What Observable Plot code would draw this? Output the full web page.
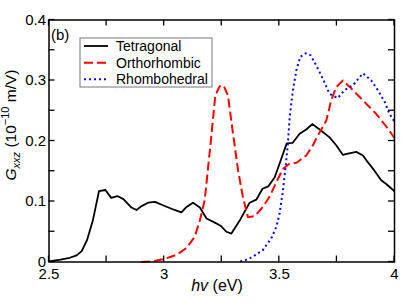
<!DOCTYPE html>
<html>
<head>
<meta charset="utf-8">
<script src="https://cdn.jsdelivr.net/npm/d3@7"></script>
<script src="https://cdn.jsdelivr.net/npm/@observablehq/plot@0.6"></script>
<style>
  html, body { margin: 0; padding: 0; background: #fff; }
  #chart { width: 407px; height: 305px; }
</style>
</head>
<body>
<div id="chart"></div>
<script>
// Data
const tetraX = [2.5, 2.55, 2.59, 2.62, 2.642, 2.665, 2.69, 2.717, 2.745, 2.77, 2.797, 2.823, 2.858, 2.88, 2.9, 2.93, 2.96, 3.0, 3.045, 3.075, 3.097, 3.125, 3.155, 3.184, 3.22, 3.245, 3.27, 3.292, 3.33, 3.371, 3.4, 3.427, 3.452, 3.48, 3.507, 3.532, 3.558, 3.588, 3.617, 3.643, 3.682, 3.718, 3.747, 3.776, 3.798, 3.834, 3.863, 3.884, 3.913, 3.942, 3.964, 4.0];
const tetraY = [0.001, 0.004, 0.007, 0.011, 0.018, 0.036, 0.068, 0.117, 0.119, 0.106, 0.109, 0.104, 0.090, 0.086, 0.092, 0.098, 0.0995, 0.093, 0.086, 0.082, 0.091, 0.098, 0.090, 0.072, 0.065, 0.060, 0.050, 0.047, 0.070, 0.098, 0.103, 0.121, 0.125, 0.140, 0.169, 0.196, 0.197, 0.212, 0.219, 0.228, 0.217, 0.206, 0.193, 0.177, 0.179, 0.182, 0.176, 0.165, 0.151, 0.135, 0.129, 0.117];

const orthoX = [2.9, 2.95, 3.0, 3.054, 3.097, 3.133, 3.155, 3.176, 3.2, 3.222, 3.24, 3.258, 3.277, 3.299, 3.321, 3.342, 3.364, 3.393, 3.422, 3.458, 3.487, 3.516, 3.545, 3.574, 3.617, 3.646, 3.66, 3.704, 3.725, 3.747, 3.776, 3.812, 3.863, 3.92, 3.96, 4.0];
const orthoY = [0, 0.001, 0.005, 0.012, 0.023, 0.042, 0.069, 0.102, 0.19, 0.275, 0.290, 0.292, 0.275, 0.212, 0.151, 0.107, 0.074, 0.076, 0.088, 0.108, 0.132, 0.154, 0.163, 0.164, 0.176, 0.193, 0.204, 0.234, 0.267, 0.289, 0.300, 0.287, 0.267, 0.245, 0.226, 0.205];

const rhomboX = [3.33, 3.36, 3.386, 3.429, 3.465, 3.487, 3.501, 3.516, 3.527, 3.537, 3.545, 3.559, 3.574, 3.591, 3.614, 3.635, 3.66, 3.689, 3.718, 3.754, 3.783, 3.819, 3.863, 3.899, 3.928, 3.957, 3.978, 4.0];
const rhomboY = [0.001, 0.004, 0.009, 0.020, 0.039, 0.058, 0.080, 0.119, 0.157, 0.195, 0.240, 0.284, 0.317, 0.339, 0.345, 0.342, 0.325, 0.303, 0.278, 0.271, 0.284, 0.292, 0.312, 0.300, 0.284, 0.265, 0.245, 0.232];

const seriesNames = ["Tetragonal", "Orthorhombic", "Rhombohedral"];
const seriesColors = ["#000000", "#ff0000", "#0000ff"];
const seriesDash = [null, "9,4", "2,3"];

const xTickLabels = [2.5, 3, 3.5, 4];
const yTickLabels = [0, 0.1, 0.2, 0.3, 0.4];
const xMinorTicks = [2.5, 2.75, 3, 3.25, 3.5, 3.75, 4];
const yMinorTicks = [0, 0.05, 0.1, 0.15, 0.2, 0.25, 0.3, 0.35, 0.4];

const toRows = (xs, ys, name) => xs.map((x, i) => ({x, y: ys[i], name}));
const tetra = toRows(tetraX, tetraY, seriesNames[0]);
const ortho = toRows(orthoX, orthoY, seriesNames[1]);
const rhombo = toRows(rhomboX, rhomboY, seriesNames[2]);
const allSeries = [tetra, ortho, rhombo];

const FONT = "'Liberation Sans', Arial, Helvetica, sans-serif";

const plot = Plot.plot({
  width: 407,
  height: 305,
  marginLeft: 48.5,
  marginRight: 13,
  marginTop: 19.5,
  marginBottom: 43.5,
  style: {fontFamily: FONT, fontSize: "15px", background: "#fff", color: "#000"},
  x: {domain: [2.5, 4]},
  y: {domain: [0, 0.4]},
  marks: [
    ...allSeries.map((rows, i) => Plot.line(rows, {
      x: "x", y: "y",
      stroke: seriesColors[i],
      strokeWidth: i === 0 ? 1.8 : 2,
      strokeDasharray: seriesDash[i],
      strokeLinejoin: "round",
      strokeLinecap: "butt"
    })),
    Plot.frame({stroke: "#000", strokeWidth: 1.5}),
    Plot.axisX({ticks: xTickLabels, tickSize: 0, tickPadding: 6, fontSize: 15, label: null, tickFormat: d => String(d)}),
    Plot.axisY({ticks: yTickLabels, tickSize: 0, tickPadding: 3, fontSize: 15, label: null, tickFormat: d => String(d)})
  ]
});

document.getElementById("chart").appendChild(plot);

const svg = d3.select(plot);
const sx = plot.scale("x");
const sy = plot.scale("y");
const x0 = sx.apply(2.5), x1 = sx.apply(4);
const y0 = sy.apply(0), y1 = sy.apply(0.4);
const TL = 6;

// Inward ticks on all four sides
const tg = svg.append("g").attr("stroke", "#000").attr("stroke-width", 1.3);
xMinorTicks.forEach(v => {
  const px = sx.apply(v);
  tg.append("line").attr("x1", px).attr("x2", px).attr("y1", y0).attr("y2", y0 - TL);
  tg.append("line").attr("x1", px).attr("x2", px).attr("y1", y1).attr("y2", y1 + TL);
});
yMinorTicks.forEach(v => {
  const py = sy.apply(v);
  tg.append("line").attr("y1", py).attr("y2", py).attr("x1", x0).attr("x2", x0 + TL);
  tg.append("line").attr("y1", py).attr("y2", py).attr("x1", x1).attr("x2", x1 - TL);
});

// X axis title: hv (eV)
const xt = svg.append("text")
  .attr("x", 217).attr("y", 291)
  .attr("text-anchor", "middle")
  .attr("font-family", FONT).attr("font-size", 16).attr("fill", "#000");
xt.append("tspan").attr("font-style", "italic").text("hv");
xt.append("tspan").text(" (eV)");

// Y axis title: G_xxz (10^-10 m/V)
const yt = svg.append("text")
  .attr("transform", "translate(16,125) rotate(-90)")
  .attr("text-anchor", "middle")
  .attr("font-family", FONT).attr("font-size", 15.5).attr("fill", "#000");
yt.append("tspan").attr("font-style", "italic").text("G");
yt.append("tspan").attr("font-style", "italic").attr("font-size", 11).attr("dy", 4).text("xxz");
yt.append("tspan").attr("dy", -4).text(" (10");
yt.append("tspan").attr("font-size", 11).attr("dy", -7).text("\u221210");
yt.append("tspan").attr("dy", 7).text(" m/V)");

// Panel label
svg.append("text").attr("x", 51).attr("y", 40)
  .attr("text-anchor", "start")
  .attr("font-family", FONT).attr("font-size", 15).attr("fill", "#000").text("(b)");

// Legend
const lg = svg.append("g").attr("text-anchor", "start");
lg.append("rect").attr("x", 80).attr("y", 38).attr("width", 132).attr("height", 49)
  .attr("fill", "#fff").attr("stroke", "#777").attr("stroke-width", 1);
const rowsY = [46, 62.7, 79.3];
seriesNames.forEach((name, i) => {
  lg.append("line").attr("x1", 84).attr("x2", 108).attr("y1", rowsY[i]).attr("y2", rowsY[i])
    .attr("stroke", seriesColors[i]).attr("stroke-width", i === 0 ? 1.8 : 2)
    .attr("stroke-dasharray", seriesDash[i]);
  lg.append("text").attr("x", 116).attr("y", rowsY[i] + 5)
    .attr("text-anchor", "start")
    .attr("font-family", FONT).attr("font-size", 14).attr("fill", "#000").text(name);
});
</script>
</body>
</html>
